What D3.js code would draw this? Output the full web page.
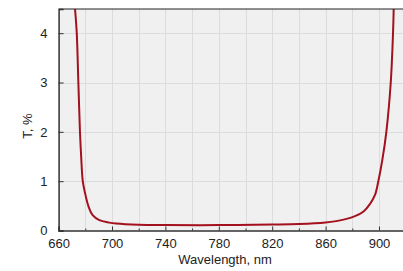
<!DOCTYPE html>
<html lang="en">
<head>
<meta charset="utf-8">
<title>Transmission</title>
<script src="https://cdn.jsdelivr.net/npm/d3@7"></script>
<style>
  body { margin: 0; background: #fff; }
  svg { display: block; font-family: "Liberation Sans", Arial, sans-serif; }
</style>
</head>
<body>
<script>
// data
var wavelength = [672.3, 673.6, 674.8, 676.0, 676.9, 678.1, 679.8, 682.5, 685.5, 690.5, 698, 703, 720, 740, 780, 820, 840, 859.9, 868, 875, 882, 888.2, 893.3, 897, 899.5, 902.5, 905.5, 908.8, 910.5, 911.0];
var transmission = [4.49, 4.0, 3.0, 2.0, 1.5, 1.0, 0.76, 0.48, 0.31, 0.21, 0.16, 0.14, 0.115, 0.11, 0.11, 0.12, 0.13, 0.16, 0.19, 0.23, 0.29, 0.38, 0.54, 0.72, 1.0, 1.43, 2.0, 3.0, 4.0, 4.49];
var xTicks = [660, 700, 740, 780, 820, 860, 900];
var xMinor = [680, 720, 760, 800, 840, 880, 920];
var yTicks = [0, 1, 2, 3, 4];

var W = 403, H = 271;
// note: "top" is reserved on window, so use plot* names
var plotL = 58.6, plotT = 9, plotR = 405.7, plotB = 230.5;

var x = d3.scaleLinear().domain([660, 920]).range([plotL, plotR]);
var y = d3.scaleLinear().domain([0, 4.49]).range([plotB, plotT]);

var svg = d3.select("body").append("svg")
    .attr("width", W)
    .attr("height", H);

svg.append("defs").append("clipPath").attr("id", "clip")
  .append("rect")
    .attr("x", plotL).attr("y", plotT)
    .attr("width", plotR - plotL).attr("height", plotB - plotT);

// plot background
svg.append("rect")
    .attr("x", plotL).attr("y", plotT)
    .attr("width", plotR - plotL).attr("height", plotB - plotT)
    .attr("fill", "#f0f0f0");

// grid
var grid = svg.append("g").attr("stroke", "#dcdcdc").attr("stroke-width", 1);
grid.selectAll(".vg")
  .data(xTicks.concat(xMinor).filter(function(d) { return d > 660; }))
  .enter().append("line")
    .attr("x1", function(d) { return Math.round(x(d)) + 0.5; })
    .attr("x2", function(d) { return Math.round(x(d)) + 0.5; })
    .attr("y1", plotT).attr("y2", plotB);
grid.selectAll(".hg")
  .data(yTicks.filter(function(d) { return d > 0; }))
  .enter().append("line")
    .attr("x1", plotL).attr("x2", plotR)
    .attr("y1", function(d) { return Math.round(y(d)) + 0.5; })
    .attr("y2", function(d) { return Math.round(y(d)) + 0.5; });

// curve
var line = d3.line()
    .x(function(d, i) { return x(wavelength[i]); })
    .y(function(d) { return y(d); })
    .curve(d3.curveCatmullRom.alpha(0.5));

svg.append("path")
    .datum(transmission)
    .attr("clip-path", "url(#clip)")
    .attr("fill", "none")
    .attr("stroke", "#a3101e")
    .attr("stroke-width", 2)
    .attr("d", line);

// top border
svg.append("line")
    .attr("x1", plotL).attr("x2", plotR)
    .attr("y1", plotT).attr("y2", plotT)
    .attr("stroke", "#222");

// axes (ticks pointing inward)
svg.append("g")
    .attr("transform", "translate(0," + plotB + ")")
    .call(d3.axisBottom(x).tickValues(xTicks).tickSize(-4).tickPadding(8));
svg.append("g")
    .attr("transform", "translate(0," + plotB + ")")
    .call(d3.axisBottom(x).tickValues(xMinor).tickSize(-2).tickFormat(""))
    .call(function(g) { g.select(".domain").remove(); });

svg.append("g")
    .attr("transform", "translate(" + plotL + ",0)")
    .call(d3.axisLeft(y).tickValues(yTicks).tickFormat(d3.format("d")).tickSize(-5).tickPadding(11));

svg.selectAll(".domain").attr("stroke", "#333").attr("stroke-width", 1.5);
svg.selectAll(".tick line").attr("stroke", "#333");
svg.selectAll(".tick text")
    .attr("fill", "#222")
    .style("font-size", "13px");

// axis titles
svg.append("text")
    .attr("x", 225).attr("y", 264)
    .attr("text-anchor", "middle")
    .style("font-size", "13px")
    .attr("fill", "#222")
    .text("Wavelength, nm");

svg.append("text")
    .attr("transform", "translate(32,126) rotate(-90)")
    .attr("text-anchor", "middle")
    .style("font-size", "13px")
    .attr("fill", "#222")
    .text("T, %");
</script>
</body>
</html>
